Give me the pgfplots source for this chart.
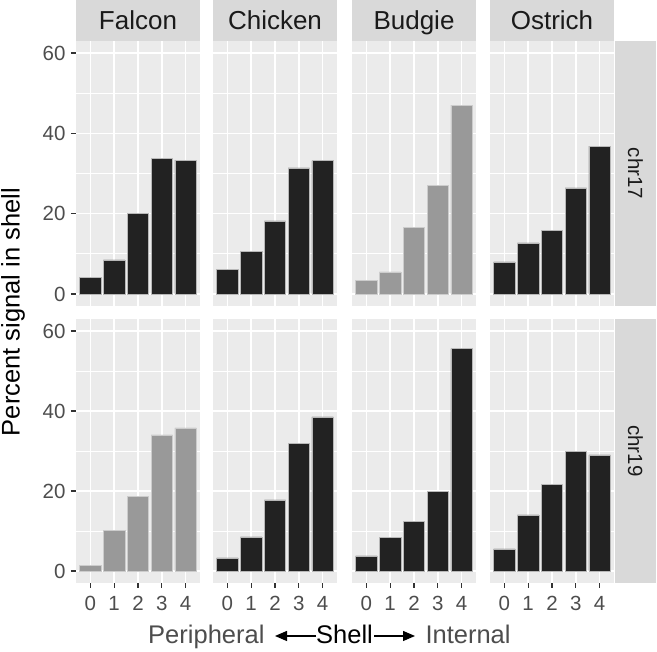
\documentclass[border=0pt]{standalone}
\usepackage{pgfplots}
\pgfplotsset{compat=1.18}
\usepackage{fontspec}
\setmainfont{Liberation Sans}
\usetikzlibrary{arrows.meta}

\definecolor{panelbg}{HTML}{EBEBEB}
\definecolor{stripbg}{HTML}{D9D9D9}
\definecolor{darkbar}{HTML}{222222}
\definecolor{greybar}{HTML}{999999}
\definecolor{ticktext}{HTML}{4D4D4D}
\definecolor{tickline}{HTML}{333333}
\definecolor{striptext}{HTML}{1A1A1A}

\pgfplotsset{
  panel/.style={
    scale only axis, width=124pt, height=264pt, anchor=south west,
    xmin=-0.6, xmax=4.6, ymin=-3, ymax=63,
    axis background/.style={fill=panelbg},
    axis line style={draw=none},
    xtick={0,...,4}, ytick={0,20,40,60}, minor ytick={10,30,50},
    xticklabels={}, yticklabels={},
    xmajorgrids, ymajorgrids, yminorgrids,
    major grid style={white, line width=1.6pt},
    minor grid style={white, line width=0.8pt},
    major tick length=0pt, minor tick length=0pt,
    tick align=outside, tick pos=left,
    extra tick style={grid=none, major tick length=5pt, tick style={tickline, line width=1.3pt}},
    /pgf/number format/assume math mode=true,
    ticklabel style={font=\fontsize{20.5}{20.5}\selectfont, text=ticktext},
    xticklabel style={yshift=-5pt},
    yticklabel style={xshift=-2pt},
  },
  yedge/.style={extra y ticks={0,20,40,60}, extra y tick labels={0,20,40,60}},
  xedge/.style={extra x ticks={0,...,4}, extra x tick labels={0,1,2,3,4}},
  dark/.style={ybar, bar width=0.9, fill=darkbar, draw=white!72!black, line width=0.5pt},
  grey/.style={ybar, bar width=0.9, fill=greybar, draw=white!80!black, line width=0.5pt},
}

\begin{document}
\begin{tikzpicture}[x=1pt, y=1pt]
\useasboundingbox (0,0) rectangle (657,652);

% chr17 row
\begin{axis}[panel, yedge, at={(76pt,346pt)}, height=265pt]
  \addplot[dark] coordinates {(0,4.1) (1,8.5) (2,20.0) (3,33.7) (4,33.3)};
\end{axis}
\begin{axis}[panel, at={(213pt,346pt)}, height=265pt]
  \addplot[dark] coordinates {(0,6.1) (1,10.6) (2,18.2) (3,31.4) (4,33.2)};
\end{axis}
\begin{axis}[panel, at={(352pt,346pt)}, height=265pt]
  \addplot[grey] coordinates {(0,3.3) (1,5.5) (2,16.5) (3,27.1) (4,47.0)};
\end{axis}
\begin{axis}[panel, at={(490pt,346pt)}, height=265pt]
  \addplot[dark] coordinates {(0,8.0) (1,12.7) (2,15.9) (3,26.4) (4,36.8)};
\end{axis}

% chr19 row
\begin{axis}[panel, yedge, xedge, at={(76pt,69pt)}]
  \addplot[grey] coordinates {(0,1.4) (1,10.2) (2,18.6) (3,34.0) (4,35.8)};
\end{axis}
\begin{axis}[panel, xedge, at={(213pt,69pt)}]
  \addplot[dark] coordinates {(0,3.3) (1,8.5) (2,17.8) (3,31.9) (4,38.5)};
\end{axis}
\begin{axis}[panel, xedge, at={(352pt,69pt)}]
  \addplot[dark] coordinates {(0,3.8) (1,8.4) (2,12.4) (3,19.9) (4,55.6)};
\end{axis}
\begin{axis}[panel, xedge, at={(490pt,69pt)}]
  \addplot[dark] coordinates {(0,5.5) (1,14.0) (2,21.6) (3,29.9) (4,29.0)};
\end{axis}

% facet strips
\begin{scope}[font=\fontsize{26}{26}\selectfont, text=striptext]
  \foreach \x/\name in {76/Falcon, 213/Chicken, 352/Budgie, 490/Ostrich} {
    \fill[stripbg] (\x,611) rectangle (\x+124,652);
    \node[anchor=base] at (\x+62,622) {\name};
  }
\end{scope}
\begin{scope}[font=\fontsize{20.5}{20.5}\selectfont, text=striptext]
  \fill[stripbg] (615,346) rectangle (656,611);
  \node[rotate=-90] at (635.5,478.5) {chr17};
  \fill[stripbg] (615,69) rectangle (656,333);
  \node[rotate=-90] at (635.5,201) {chr19};
\end{scope}

% axis titles
\node[rotate=90, font=\fontsize{25.5}{25.5}\selectfont, text=black] at (13,340) {Percent signal in shell};
\begin{scope}[font=\fontsize{25.5}{25.5}\selectfont]
  \node[text=black, anchor=base] (shell) at (344.5,8) {Shell};
  \draw[black, line width=1.3pt, -{Triangle[length=12pt, width=10pt]}] (316,16) -- (275,16);
  \draw[black, line width=1.3pt, -{Triangle[length=12pt, width=10pt]}] (374,16) -- (415,16);
  \node[text=ticktext, anchor=base east] at (268,8) {Peripheral};
  \node[text=ticktext, anchor=base west] at (422,8) {Internal};
\end{scope}
\end{tikzpicture}
\end{document}
